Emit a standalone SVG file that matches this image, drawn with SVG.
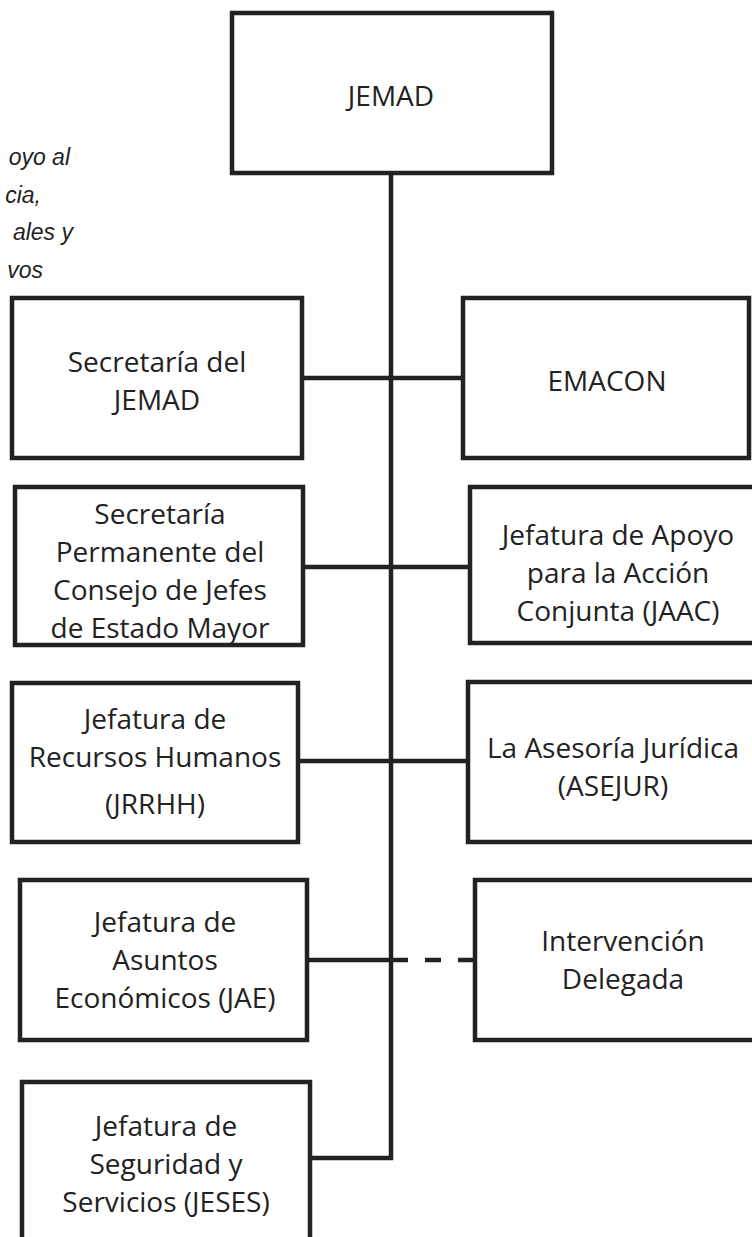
<svg xmlns="http://www.w3.org/2000/svg" width="752" height="1237" viewBox="0 0 752 1237">
<style>
.box{fill:#fff;stroke:#222;stroke-width:4.5}
.t{font-family:"Open Sans","Noto Sans",sans-serif;font-size:28px;fill:#222;text-anchor:middle}
.c{fill:none;stroke:#222;stroke-width:4.5}
.note{font-family:"Liberation Sans",Arial,sans-serif;font-style:italic;font-size:23px;fill:#222;text-anchor:end}
</style>
<rect width="752" height="1237" fill="#fff"/>
<g id="note">
<text class="note" x="70" y="165">oyo al</text>
<text class="note" x="41" y="203">cia,</text>
<text class="note" x="73" y="240">ales y</text>
<text class="note" x="43" y="278">vos</text>
</g>
<g id="connectors">
<path class="c" d="M391 173 V1158 H310"/>
<path class="c" d="M302 378 H463"/>
<path class="c" d="M303 567 H470"/>
<path class="c" d="M298 761 H468"/>
<path class="c" d="M307 960 H392"/>
<path class="c" d="M392 960 H475" stroke-dasharray="16 17"/>
</g>
<g id="jemad">
<rect class="box" x="232" y="13" width="320" height="160"/>
<text class="t" x="391" y="106">JEMAD</text>
</g>
<g id="secretaria-jemad">
<rect class="box" x="12" y="298" width="290" height="160"/>
<text class="t" x="157" y="372">Secretaría del</text>
<text class="t" x="157" y="410">JEMAD</text>
</g>
<g id="emacon">
<rect class="box" x="463" y="298" width="286" height="160"/>
<text class="t" x="607" y="391">EMACON</text>
</g>
<g id="secretaria-permanente">
<rect class="box" x="15" y="487" width="288" height="158"/>
<text class="t" x="160" y="524">Secretaría</text>
<text class="t" x="160" y="562">Permanente del</text>
<text class="t" x="160" y="600">Consejo de Jefes</text>
<text class="t" x="160" y="638">de Estado Mayor</text>
</g>
<g id="jaac">
<rect class="box" x="470" y="487" width="300" height="156"/>
<text class="t" x="618" y="545">Jefatura de Apoyo</text>
<text class="t" x="618" y="583">para la Acción</text>
<text class="t" x="618" y="621">Conjunta (JAAC)</text>
</g>
<g id="jrrhh">
<rect class="box" x="12" y="683" width="286" height="159"/>
<text class="t" x="155" y="729">Jefatura de</text>
<text class="t" x="155" y="767">Recursos Humanos</text>
<text class="t" x="155" y="814">(JRRHH)</text>
</g>
<g id="asejur">
<rect class="box" x="468" y="682" width="300" height="160"/>
<text class="t" x="613" y="758">La Asesoría Jurídica</text>
<text class="t" x="613" y="796">(ASEJUR)</text>
</g>
<g id="jae">
<rect class="box" x="20" y="880" width="287" height="160"/>
<text class="t" x="165" y="932">Jefatura de</text>
<text class="t" x="165" y="970">Asuntos</text>
<text class="t" x="165" y="1008">Económicos (JAE)</text>
</g>
<g id="intervencion">
<rect class="box" x="475" y="880" width="300" height="160"/>
<text class="t" x="623" y="951">Intervención</text>
<text class="t" x="623" y="989">Delegada</text>
</g>
<g id="jeses">
<rect class="box" x="22" y="1082" width="288" height="180"/>
<text class="t" x="166" y="1136">Jefatura de</text>
<text class="t" x="166" y="1174">Seguridad y</text>
<text class="t" x="166" y="1212">Servicios (JESES)</text>
</g>
</svg>
